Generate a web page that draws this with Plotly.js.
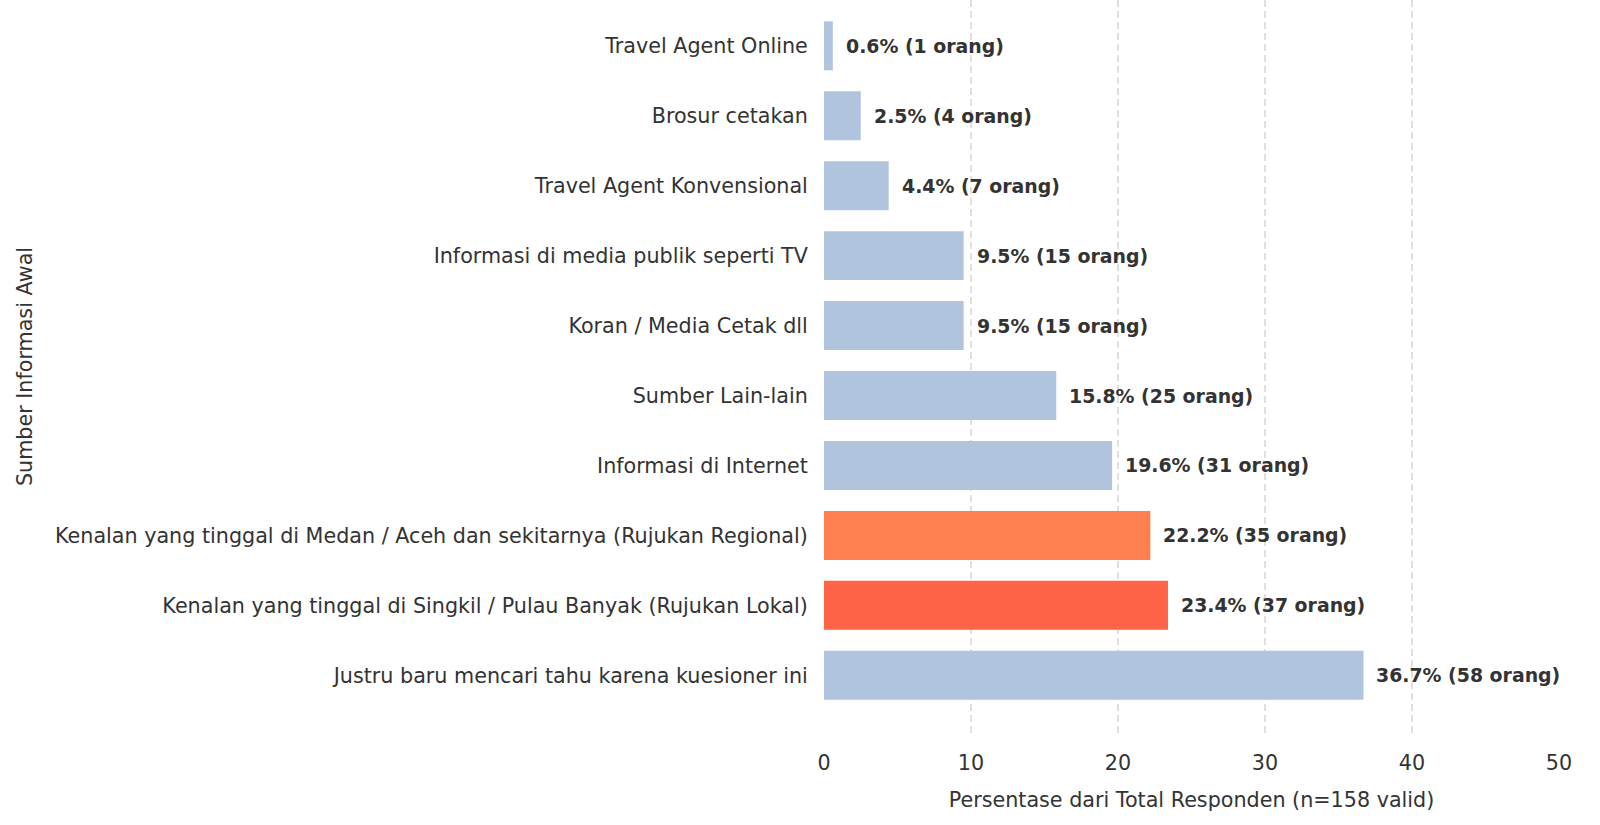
<!DOCTYPE html>
<html>
<head>
<meta charset="utf-8">
<script src="https://cdn.plot.ly/plotly-3.0.1.min.js"></script>
<style>
  html, body { margin: 0; padding: 0; background: #fff; }
  #chart { width: 1600px; height: 825px; }
</style>
</head>
<body>
<div id="chart"></div>
<script>
// urutan dari bawah ke atas
var categories = [
    'Justru baru mencari tahu karena kuesioner ini',
    'Kenalan yang tinggal di Singkil / Pulau Banyak (Rujukan Lokal)',
    'Kenalan yang tinggal di Medan / Aceh dan sekitarnya (Rujukan Regional)',
    'Informasi di Internet',
    'Sumber Lain-lain',
    'Koran / Media Cetak dll',
    'Informasi di media publik seperti TV',
    'Travel Agent Konvensional',
    'Brosur cetakan',
    'Travel Agent Online'
];
var percents = [36.7, 23.4, 22.2, 19.6, 15.8, 9.5, 9.5, 4.4, 2.5, 0.6];
var counts = [58, 37, 35, 31, 25, 15, 15, 7, 4, 1];
var barColors = ['#b0c4de', '#ff6347', '#ff7f50', '#b0c4de', '#b0c4de',
                 '#b0c4de', '#b0c4de', '#b0c4de', '#b0c4de', '#b0c4de'];
var xTicks = [0, 10, 20, 30, 40, 50];

var fontFamily = '"DejaVu Sans", "Liberation Sans", sans-serif';

var trace = {
    type: 'bar',
    orientation: 'h',
    x: percents,
    y: categories,
    width: 0.7,
    marker: { color: barColors, line: { width: 0 } },
    hoverinfo: 'none'
};

// label di ujung batang
var annotations = percents.map(function (p, i) {
    return {
        x: p,
        y: categories[i],
        xref: 'x',
        yref: 'y',
        text: '<b>' + p.toFixed(1) + '% (' + counts[i] + ' orang)</b>',
        showarrow: false,
        xanchor: 'left',
        xshift: 11,
        font: { family: fontFamily, size: 18.9, color: '#333333' }
    };
});

var layout = {
    width: 1600,
    height: 825,
    margin: { l: 824, r: 41, t: 0, b: 92 },
    paper_bgcolor: '#ffffff',
    plot_bgcolor: '#ffffff',
    showlegend: false,
    font: { family: fontFamily, color: '#333333' },
    xaxis: {
        range: [0, 50],
        tickvals: xTicks,
        ticktext: xTicks.map(String),
        showgrid: true,
        gridcolor: '#e0e0e0',
        griddash: '7px,4px',
        gridwidth: 1.2,
        zeroline: false,
        showline: false,
        ticks: 'outside',
        ticklen: 11,
        tickcolor: 'rgba(0,0,0,0)',
        tickfont: { size: 20.7, color: '#333333' },
        title: { text: 'Persentase dari Total Responden (n=158 valid)', font: { size: 20.7, color: '#333333' }, standoff: 18 }
    },
    yaxis: {
        type: 'category',
        range: [-0.825, 9.655],
        showgrid: false,
        zeroline: false,
        showline: false,
        ticks: 'outside',
        ticklen: 11,
        tickcolor: 'rgba(0,0,0,0)',
        tickfont: { size: 20.7, color: '#333333' },
        title: { text: 'Sumber Informasi Awal', font: { size: 20.7, color: '#333333' }, standoff: 16 }
    },
    annotations: annotations
};

Plotly.newPlot('chart', [trace], layout, { displayModeBar: false, staticPlot: true });
</script>
</body>
</html>
